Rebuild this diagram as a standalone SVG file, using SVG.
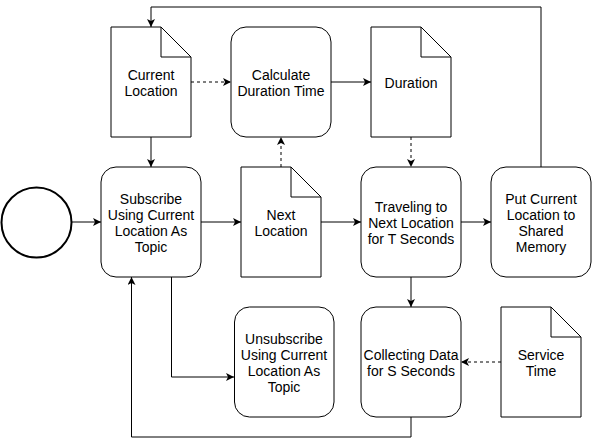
<svg xmlns="http://www.w3.org/2000/svg" width="592" height="446" viewBox="0 0 592 446">
<style>
.s{fill:#fff;stroke:#000;stroke-width:1}
.c{fill:none;stroke:#000;stroke-width:1}
.d{stroke-dasharray:3 3}
text{font-family:"Liberation Sans",Arial,sans-serif;font-size:14px;fill:#000;text-anchor:middle}
</style>
<defs>
<marker id="a" markerUnits="userSpaceOnUse" markerWidth="9" markerHeight="9" refX="8" refY="4" orient="auto">
<path d="M0,0 L8,4 L0,8 L2,4 Z" fill="#000"/>
</marker>
</defs>
<rect width="592" height="446" fill="#fff"/>
<g id="connectors">
<path class="c" d="M71,222 H101" marker-end="url(#a)"/>
<path class="c" d="M201,222 H241" marker-end="url(#a)"/>
<path class="c" d="M321,222 H361" marker-end="url(#a)"/>
<path class="c" d="M461,222 H491" marker-end="url(#a)"/>
<path class="c" d="M151,137 V167" marker-end="url(#a)"/>
<path class="c d" d="M191,82 H231" marker-end="url(#a)"/>
<path class="c" d="M331,82 H371" marker-end="url(#a)"/>
<path class="c d" d="M411,137 V167" marker-end="url(#a)"/>
<path class="c d" d="M281,167 V137" marker-end="url(#a)"/>
<path class="c" d="M411,277 V307" marker-end="url(#a)"/>
<path class="c d" d="M501,362 H461" marker-end="url(#a)"/>
<path class="c" d="M171.5,277 V377 H234" marker-end="url(#a)"/>
<path class="c" d="M411,417 V437 H131.5 V277" marker-end="url(#a)"/>
<path class="c" d="M541,167 V7 H151 V27" marker-end="url(#a)"/>
</g>
<g id="start">
<circle cx="36.5" cy="222.5" r="35" fill="#fff" stroke="#000" stroke-width="2"/>
</g>
<g id="current-location">
<path class="s" d="M111,27 H161 L191,57 V137 H111 Z"/>
<path class="c" d="M161,27 V57 H191"/>
<text x="151" y="80">Current</text>
<text x="151" y="96">Location</text>
</g>
<g id="calculate">
<rect class="s" x="231" y="27" width="100" height="110" rx="15"/>
<text x="281" y="80">Calculate</text>
<text x="281" y="96">Duration Time</text>
</g>
<g id="duration">
<path class="s" d="M371,27 H421 L451,57 V137 H371 Z"/>
<path class="c" d="M421,27 V57 H451"/>
<text x="411" y="88">Duration</text>
</g>
<g id="subscribe">
<rect class="s" x="101" y="167" width="100" height="110" rx="15"/>
<text x="151" y="204">Subscribe</text>
<text x="151" y="220">Using Current</text>
<text x="151" y="236">Location As</text>
<text x="151" y="252">Topic</text>
</g>
<g id="next-location">
<path class="s" d="M241,167 H291 L321,197 V277 H241 Z"/>
<path class="c" d="M291,167 V197 H321"/>
<text x="281" y="220">Next</text>
<text x="281" y="236">Location</text>
</g>
<g id="traveling">
<rect class="s" x="361" y="167" width="100" height="110" rx="15"/>
<text x="411" y="212">Traveling to</text>
<text x="411" y="228">Next Location</text>
<text x="411" y="244">for T Seconds</text>
</g>
<g id="put-current">
<rect class="s" x="491" y="167" width="100" height="110" rx="15"/>
<text x="541" y="204">Put Current</text>
<text x="541" y="220">Location to</text>
<text x="541" y="236">Shared</text>
<text x="541" y="252">Memory</text>
</g>
<g id="unsubscribe">
<rect class="s" x="234.5" y="307" width="99.5" height="110" rx="15"/>
<text x="284" y="344">Unsubscribe</text>
<text x="284" y="360">Using Current</text>
<text x="284" y="376">Location As</text>
<text x="284" y="392">Topic</text>
</g>
<g id="collecting">
<rect class="s" x="361" y="307" width="100" height="110" rx="15"/>
<text x="411" y="360">Collecting Data</text>
<text x="411" y="376">for S Seconds</text>
</g>
<g id="service-time">
<path class="s" d="M501,307 H551 L581,337 V417 H501 Z"/>
<path class="c" d="M551,307 V337 H581"/>
<text x="541" y="360">Service</text>
<text x="541" y="376">Time</text>
</g>
</svg>
